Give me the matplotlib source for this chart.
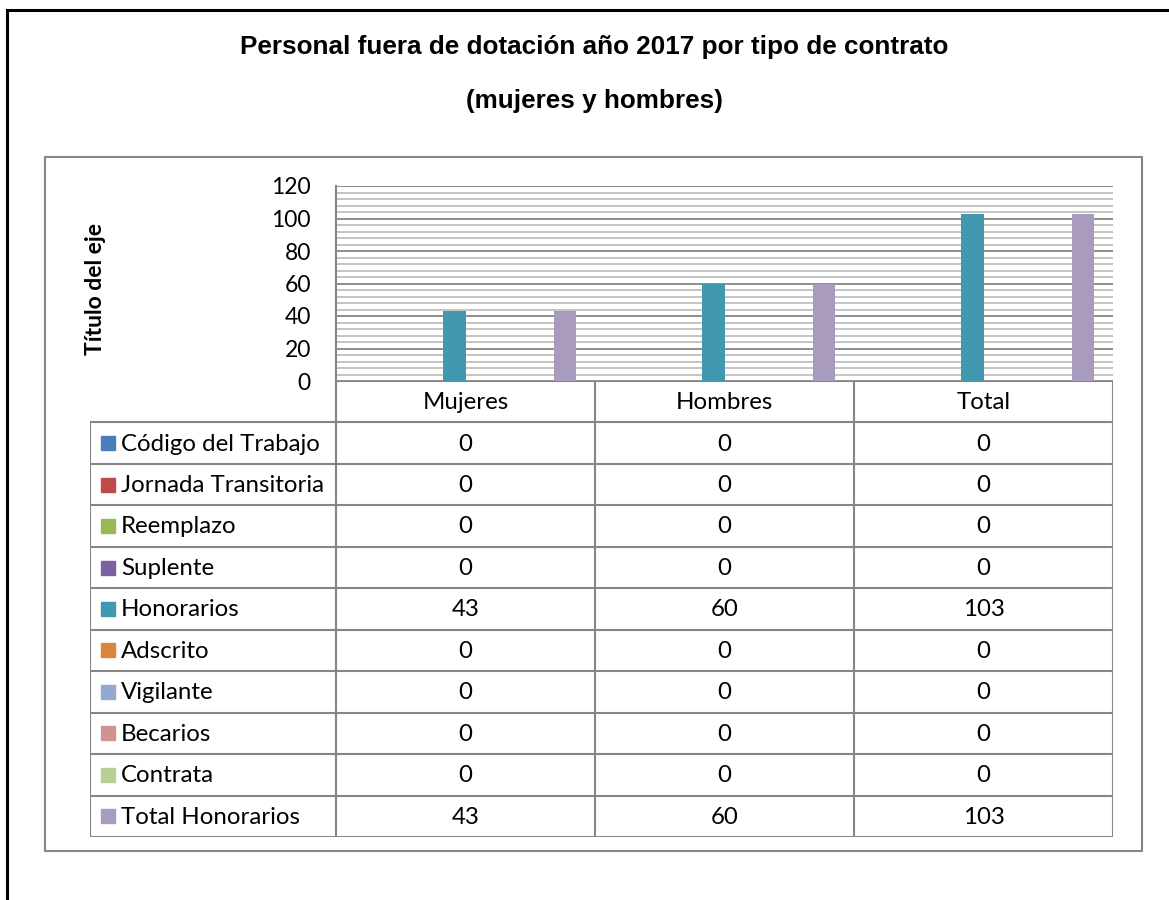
import numpy as np
import matplotlib.pyplot as plt
from matplotlib.patches import Rectangle
from matplotlib.lines import Line2D

W, H = 1169, 900

categories = ["Mujeres", "Hombres", "Total"]
series = ["Código del Trabajo", "Jornada Transitoria", "Reemplazo", "Suplente",
          "Honorarios", "Adscrito", "Vigilante", "Becarios", "Contrata",
          "Total Honorarios"]
values = [
    [0, 0, 0],
    [0, 0, 0],
    [0, 0, 0],
    [0, 0, 0],
    [43, 60, 103],
    [0, 0, 0],
    [0, 0, 0],
    [0, 0, 0],
    [0, 0, 0],
    [43, 60, 103],
]
colors = ["#4A7EBB", "#BE4B48", "#98B954", "#7D60A0", "#4198AF",
          "#DB843D", "#93A9CF", "#D19392", "#B9CD96", "#A99BBD"]

title = "Personal fuera de dotación año 2017 por tipo de contrato"
subtitle = "(mujeres y hombres)"
ylabel = "Título del eje"

body_font = ["Lato", "DejaVu Sans"]
plt.rcParams['font.family'] = body_font
fs = 17.3
grid_dark = "#868686"
grid_light = "#BFBFBF"


def px(x0, y0, x1, y1):
    return [x0 / W, 1 - y1 / H, (x1 - x0) / W, (y1 - y0) / H]


fig = plt.figure(figsize=(W / 100, H / 100), dpi=100)

# outer frame (only left and top visible) and chart border
fig.add_artist(Line2D([7 / W, 7 / W], [0, 1 - 10 / H], color="black", lw=2.2, transform=fig.transFigure))
fig.add_artist(Line2D([7 / W, 1], [1 - 10 / H, 1 - 10 / H], color="black", lw=2.2, transform=fig.transFigure))
fig.add_artist(Rectangle((45 / W, 1 - 851 / H), (1142 - 45) / W, (851 - 157) / H,
                         fill=False, edgecolor=grid_dark, lw=1.5, transform=fig.transFigure))

title_font = ["Liberation Sans", "DejaVu Sans"]
fig.text(594 / W, 1 - 47 / H, title, ha="center", va="center", fontsize=18.8,
         weight="bold", family=title_font)
fig.text(594 / W, 1 - 101 / H, subtitle, ha="center", va="center", fontsize=18.8,
         weight="bold", family=title_font)

# plot area
ax = fig.add_axes(px(336, 186, 1113, 381))
n = len(series)
w = 1 / (n + 1.75)
x = np.arange(len(categories))
for i in range(n):
    ax.bar(x + (i - (n - 1) / 2) * w, values[i], width=w, color=colors[i], zorder=3)
ax.set_xlim(-0.5, 2.5)
ax.set_ylim(0, 120)
ax.set_yticks(np.arange(0, 121, 20))
ax.set_yticks(np.arange(0, 121, 4), minor=True)
ax.grid(axis="y", which="minor", color=grid_light, lw=1.3, zorder=1)
ax.grid(axis="y", which="major", color=grid_dark, lw=1.3, zorder=2)
ax.set_xticks([])
ax.tick_params(axis="y", which="both", length=0, labelsize=16.5, pad=18)
for s in ["top", "right", "bottom"]:
    ax.spines[s].set_visible(False)
ax.spines["left"].set_color(grid_dark)
ax.spines["left"].set_linewidth(1.5)
ax.set_facecolor("none")

fig.text(96 / W, 1 - 289 / H, ylabel, rotation=90, ha="center", va="center",
         fontsize=16.5, weight="bold")

# data table
left = -0.5 - 246 / 259
axt = fig.add_axes(px(90, 381, 1113, 837))
axt.set_xlim(left, 2.5)
axt.set_ylim(11, 0)
axt.axis("off")
lc = dict(color=grid_dark, lw=1.5, solid_capstyle="projecting")
axt.plot([-0.5, 2.5], [0, 0], **lc)
for r in range(1, 12):
    axt.plot([left, 2.5], [r, r], **lc)
axt.plot([left, left], [1, 11], **lc)
for xv in [-0.5, 0.5, 1.5, 2.5]:
    axt.plot([xv, xv], [0, 11], **lc)

for j, c in enumerate(categories):
    axt.text(j, 0.52, c, ha="center", va="center", fontsize=fs)
for i, s in enumerate(series):
    yc = i + 1.52
    axt.plot(left + 18 / 259, yc - 0.02, marker="s", markersize=10.5, color=colors[i], ls="none")
    axt.text(left + 31 / 259, yc, s, ha="left", va="center", fontsize=fs)
    for j in range(len(categories)):
        axt.text(j, yc, str(values[i][j]), ha="center", va="center", fontsize=fs)

fig.savefig("out.png", dpi=100)
